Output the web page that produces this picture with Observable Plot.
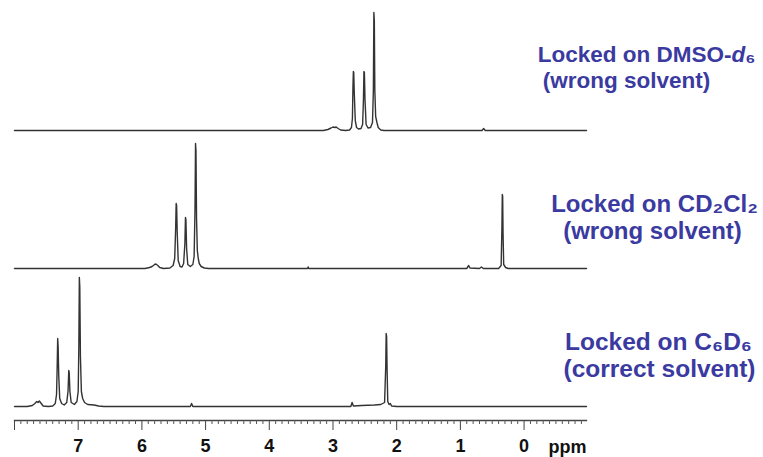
<!DOCTYPE html>
<html><head><meta charset="utf-8">
<script src="https://cdn.jsdelivr.net/npm/d3@7"></script>
<script src="https://cdn.jsdelivr.net/npm/@observablehq/plot@0.6"></script>
<style>
html,body{margin:0;padding:0;background:#fff;}
#chart{width:763px;height:457px;}
</style></head><body><div id="chart"></div>
<script>
// ---- data ----
const spectra = ["DMSO", "CD2Cl2", "C6D6"];
const labelLine1 = ["Locked on DMSO-*d*₆", "Locked on CD₂Cl₂", "Locked on C₆D₆"];
const labelLine2 = ["(wrong solvent)", "(wrong solvent)", "(correct solvent)"];
const xTicks = [8, 7, 6, 5, 4, 3, 2, 1, 0];
const xTickLabels = ["", "7", "6", "5", "4", "3", "2", "1", "0"];
const xUnit = "ppm";

// [ppm, intensity] vertices
const dmsoTrace = [[8.00,0],[3.15,0],[3.08,1],[3.03,2.5],[3.00,3.5],[2.97,3],[2.95,3.5],[2.92,2],[2.88,0.5],[2.80,0],
 [2.74,0.5],[2.71,3],[2.695,12],[2.686,45],[2.68,59],[2.674,58],[2.666,38],[2.65,10],[2.63,3],[2.60,1.5],
 [2.56,2],[2.535,6],[2.522,30],[2.514,59],[2.507,58],[2.497,30],[2.48,6],[2.45,2.5],
 [2.41,3],[2.38,8],[2.366,40],[2.358,118],[2.351,110],[2.343,40],[2.33,14],[2.31,8],[2.29,3],[2.25,0.5],[2.20,0],
 [0.66,0],[0.635,2],[0.61,0],[-0.98,0]];
const cd2cl2Trace = [[8.00,0],[5.95,0],[5.88,1],[5.84,2],[5.80,4],[5.78,4.5],[5.75,3],[5.72,1],[5.66,0],
 [5.56,0.5],[5.51,3],[5.485,10],[5.47,40],[5.462,65],[5.455,63],[5.445,35],[5.43,8],[5.40,2],[5.37,1.5],
 [5.345,5],[5.325,25],[5.316,51],[5.309,49],[5.298,20],[5.28,4],[5.24,2],
 [5.20,4],[5.18,12],[5.166,60],[5.158,125],[5.151,118],[5.142,50],[5.13,18],[5.115,10],[5.10,5],[5.07,2],[5.02,0.5],[4.95,0],
 [3.40,0],[3.39,1.5],[3.38,0],
 [0.90,0],[0.87,3],[0.85,0.5],[0.70,0],[0.67,1.5],[0.64,0],
 [0.40,0],[0.36,3],[0.348,40],[0.342,74],[0.336,72],[0.33,35],[0.32,4],[0.29,1],[0.25,0],[-0.98,0]];
const c6d6Trace = [[8.00,0],[7.80,0],[7.72,1],[7.68,3],[7.65,5],[7.63,4],[7.61,5.5],[7.58,3],[7.55,0.5],[7.47,0],
 [7.40,0.5],[7.36,3],[7.34,12],[7.33,40],[7.322,68],[7.315,60],[7.305,30],[7.29,8],[7.26,3],[7.22,1.5],
 [7.18,4],[7.16,15],[7.148,36],[7.141,34],[7.13,15],[7.11,4],[7.06,2],
 [7.02,5],[7.00,15],[6.99,60],[6.982,129],[6.975,120],[6.965,50],[6.95,15],[6.93,8],[6.90,4],[6.85,2],[6.75,1.5],[6.68,0.5],[6.60,0],
 [5.24,0],[5.22,3],[5.20,0],
 [2.72,0],[2.70,4],[2.68,0.5],[2.55,1],[2.35,1.5],[2.25,2],[2.19,4],[2.172,40],[2.165,73],[2.158,70],[2.15,35],[2.14,5],[2.12,2],[2.10,3],[2.08,0.5],[2.00,0],[-0.98,0]];
const traces = [dmsoTrace, cd2cl2Trace, c6d6Trace];

// ---- layout (styles/positions) ----
const labelDx1 = [60, 68, 72];
const labelDx2 = [40, 66, 73];
const labelDy1 = [44, 56, 56];
const labelDy2 = [70, 83, 83];
const labelSize = [22.5, 24, 24.5];
const labelColor = "#3a3aa0";

const rows = [];
traces.forEach((t, i) => t.forEach(([ppm, v]) => rows.push({spectrum: spectra[i], ppm, intensity: v})));
const minorTicks = d3.range(-9, 81).map(i => i / 10).filter(v => Math.abs(v - Math.round(v)) > 1e-6);

const labelMarks = [];
spectra.forEach((s, i) => {
  labelMarks.push(Plot.text([{spectrum: s, t: labelLine1[i]}], {fy: "spectrum", text: "t", frameAnchor: "top-right",
    lineAnchor: "middle", textAnchor: "middle", dx: labelDx1[i], dy: labelDy1[i], fill: labelColor, fontSize: labelSize[i], fontWeight: "bold"}));
  labelMarks.push(Plot.text([{spectrum: s, t: labelLine2[i]}], {fy: "spectrum", text: "t", frameAnchor: "top-right",
    lineAnchor: "middle", textAnchor: "middle", dx: labelDx2[i], dy: labelDy2[i], fill: labelColor, fontSize: labelSize[i], fontWeight: "bold"}));
});

const chart = Plot.plot({
  width: 763, height: 457,
  marginLeft: 14, marginRight: 177, marginTop: 10, marginBottom: 37,
  x: {domain: [8, -0.98], axis: null},
  y: {domain: [-14, 120], axis: null},
  fy: {domain: spectra, axis: null, paddingInner: 4 / 138, paddingOuter: 0},
  style: {fontFamily: "'Liberation Sans', Arial, sans-serif", background: "#fff", overflow: "visible"},
  marks: [
    Plot.line(rows, {x: "ppm", y: "intensity", fy: "spectrum", stroke: "#333", strokeWidth: 1.4}),
    Plot.frame({anchor: "bottom", facetAnchor: "bottom", stroke: "#444", strokeWidth: 1.3}),
    Plot.axisX(minorTicks, {anchor: "bottom", tickSize: 4, stroke: "#555", tickFormat: () => "", label: null}),
    Plot.axisX(xTicks, {anchor: "bottom", tickSize: 10, tickPadding: 9, stroke: "#444", fill: "#111",
      fontSize: 18, fontWeight: "bold", tickFormat: d => xTickLabels[xTicks.indexOf(d)], label: null}),
    Plot.text([{spectrum: spectra[2], t: xUnit}], {fy: "spectrum", text: "t", frameAnchor: "bottom-right",
      textAnchor: "end", lineAnchor: "middle", dy: 27, fill: "#111", fontSize: 18, fontWeight: "bold"}),
    ...labelMarks
  ]
});
document.getElementById("chart").appendChild(chart);

// italics (*x*) inside label texts
chart.querySelectorAll("text").forEach(el => {
  const s = el.textContent;
  if (!/\*/.test(s) || el.children.length) return;
  el.textContent = "";
  s.split(/(\*[^*]+\*)/).filter(p => p !== "").forEach(p => {
    const ts = document.createElementNS("http://www.w3.org/2000/svg", "tspan");
    ts.textContent = p.startsWith("*") ? p.slice(1, -1) : p;
    if (p.startsWith("*")) ts.setAttribute("font-style", "italic");
    el.appendChild(ts);
  });
});
</script></body></html>
